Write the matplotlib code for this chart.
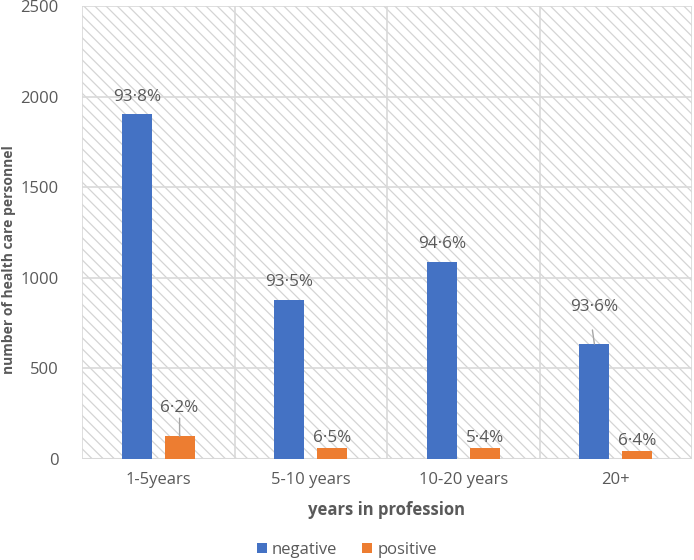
import matplotlib
matplotlib.use("Agg")
import matplotlib.pyplot as plt
from matplotlib.patches import Rectangle
import numpy as np

categories = ["1-5years", "5-10 years", "10-20 years", "20+"]
negative = [1904, 877, 1087, 635]
positive = [126, 61, 62, 44]
neg_labels = ["93·8%", "93·5%", "94·6%", "93·6%"]
pos_labels = ["6·2%", "6·5%", "5·4%", "6·4%"]

plt.rcParams['font.family'] = ['Open Sans', 'DejaVu Sans']
plt.rcParams['hatch.linewidth'] = 0.9
plt.rcParams['hatch.color'] = '#d4d4d4'
gray = '#595959'

fig = plt.figure(figsize=(6.94, 5.60), dpi=100)
ax = fig.add_axes([82/694, 1-459/560, 610/694, 453/560])

x = np.arange(len(categories))
w = 0.196
off = 0.14
blue = '#4472C4'
orange = '#ED7D31'

ax.set_xlim(-0.5, len(categories)-0.5)
ax.set_ylim(0, 2500)

bg = Rectangle((0, 0), 1, 1, transform=ax.transAxes, facecolor='white',
               edgecolor='#d4d4d4', hatch='\\\\\\', linewidth=0, zorder=0)
ax.add_patch(bg)

for yv in [500, 1000, 1500, 2000, 2500]:
    ax.axhline(yv, color='#d9d9d9', lw=1.2, zorder=1)
for xv in np.arange(-0.5, len(categories)+0.5, 1):
    ax.axvline(xv, color='#d9d9d9', lw=1.2, zorder=1)
ax.axhline(0, color='#d9d9d9', lw=1.5, zorder=1)

b1 = ax.bar(x-off, negative, w, color=blue, label='negative', zorder=3)
b2 = ax.bar(x+off, positive, w, color=orange, label='positive', zorder=3)

neg_gap = [17, 18, 18, 37]
pos_gap = [28, 10, 10, 10]
for i in range(len(categories)):
    ax.annotate(neg_labels[i], (x[i]-off, negative[i]), xytext=(0, neg_gap[i]),
                textcoords='offset pixels', ha='center', va='center',
                fontsize=12.3, color=gray, zorder=4)
    ax.annotate(pos_labels[i], (x[i]+off, positive[i]), xytext=(0, pos_gap[i]),
                textcoords='offset pixels', ha='center', va='center',
                fontsize=12.3, color=gray, zorder=4)

# leader lines
ax.annotate('', (x[0]+off, positive[0]), xytext=(0, 18), textcoords='offset pixels',
            arrowprops=dict(arrowstyle='-', color='#a6a6a6', lw=1, shrinkA=0, shrinkB=0))
ax.annotate('', (x[3]-off, negative[3]), xytext=(-2, 14), textcoords='offset pixels',
            arrowprops=dict(arrowstyle='-', color='#a6a6a6', lw=1, shrinkA=0, shrinkB=0))

ax.set_xticks(x)
ax.set_xticklabels(categories, fontsize=12, color=gray)
ax.set_yticks([0, 500, 1000, 1500, 2000, 2500])
ax.set_yticklabels(['0', '500', '1000', '1500', '2000', '2500'], fontsize=12, color=gray)
ax.tick_params(axis='x', length=0, pad=9)
ax.tick_params(axis='y', length=0, pad=17)
for s in ax.spines.values():
    s.set_visible(False)

ax.set_xlabel('years in profession', fontsize=12, fontweight='bold', color=gray, labelpad=10)
fig.text(9/694, 1-260/560, 'number of health care personnel', rotation=90,
         ha='center', va='center', fontsize=10, fontweight='bold', color=gray)

fig.legend(handles=[b1, b2], loc='center', bbox_to_anchor=(347/694, 1-550/560),
           ncol=2, frameon=False, fontsize=12, labelcolor=gray,
           handlelength=0.6, handleheight=0.6, handletextpad=0.3, columnspacing=1.5)

fig.savefig('out.png', dpi=100)
